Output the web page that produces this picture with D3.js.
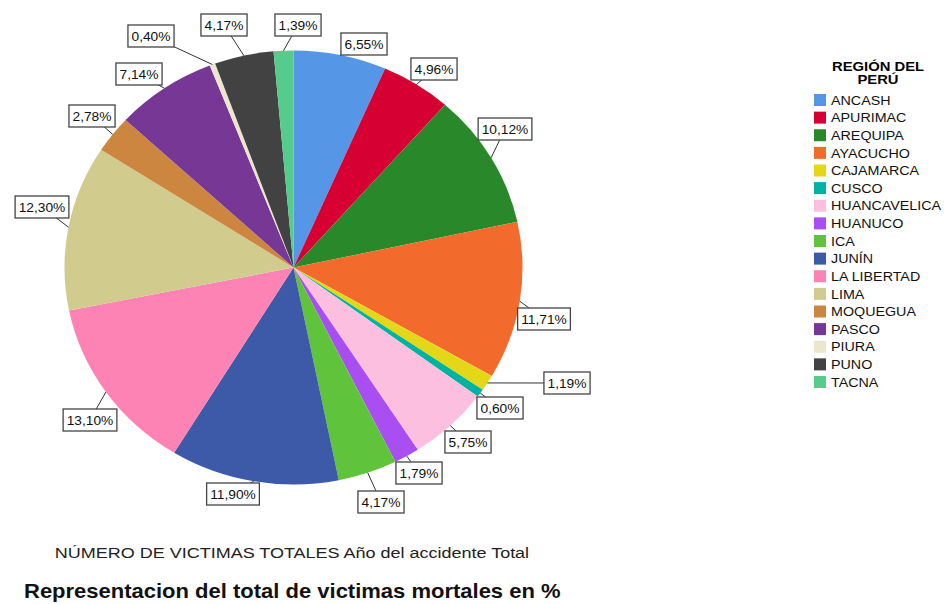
<!DOCTYPE html>
<html>
<head>
<meta charset="utf-8">
<script src="https://cdn.jsdelivr.net/npm/d3@7"></script>
<style>
  body { margin: 0; background: #fff; }
  text { font-family: "Liberation Sans", Arial, sans-serif; }
</style>
</head>
<body>
<div id="chart"></div>
<script>
// data
var regions = ["ANCASH", "APURIMAC", "AREQUIPA", "AYACUCHO", "CAJAMARCA", "CUSCO", "HUANCAVELICA",
  "HUANUCO", "ICA", "JUNÍN", "LA LIBERTAD", "LIMA", "MOQUEGUA", "PASCO", "PIURA", "PUNO", "TACNA"];
var percents = [6.55, 4.96, 10.12, 11.71, 1.19, 0.60, 5.75, 1.79, 4.17, 11.90, 13.10, 12.30, 2.78, 7.14, 0.40, 4.17, 1.39];
var colors = ["#5596e6", "#d60032", "#298829", "#f26b2c", "#e3d718", "#00b3a0", "#fdbfe0",
  "#a94ef0", "#5fc43b", "#3d5aa8", "#fc83b4", "#d2cb8e", "#cc8640", "#773794", "#ece5d0", "#424242", "#56cc8c"];

// label box centres (layout only)
var labelPos = [[364, 44], [434, 69], [505, 129], [544, 319], [567, 383], [500, 408], [468, 442],
  [419, 473], [381, 502], [233, 494], [90, 420], [42, 207], [92, 116], [139, 74], [151, 36], [224, 25], [298, 25]];

var svgWidth = 952, svgHeight = 604;
var cx = 293.5, cy = 267.5, rx = 229, ry = 217;

var svg = d3.select("#chart").append("svg")
    .attr("width", svgWidth)
    .attr("height", svgHeight);

var info = regions.map(function(r, i) {
  return { region: r, value: percents[i], color: colors[i], pos: labelPos[i] };
});

var pie = d3.pie().sort(null).value(d => d.value);
var arcs = pie(info);

var arc = d3.arc().innerRadius(0).outerRadius(ry);

// the whole picture is a bit stretched sideways, so the pie is an ellipse
var pieGroup = svg.append("g")
    .attr("transform", `translate(${cx}, ${cy}) scale(${rx / ry}, 1)`);

pieGroup.selectAll("path")
    .data(arcs)
    .enter()
    .append("path")
    .attr("d", arc)
    .attr("fill", d => d.data.color);

var fmt = d3.format(".2f");

// leader lines from slice edge to label box
var labelGroup = svg.append("g");
labelGroup.selectAll("line")
    .data(arcs)
    .enter()
    .append("line")
    .attr("x1", d => cx + rx * Math.sin((d.startAngle + d.endAngle) / 2))
    .attr("y1", d => cy - ry * Math.cos((d.startAngle + d.endAngle) / 2))
    .attr("x2", d => d.data.pos[0])
    .attr("y2", d => d.data.pos[1])
    .attr("stroke", "#333")
    .attr("stroke-width", 1);

var lblScale = 1.06;
var labels = labelGroup.selectAll("g.lbl")
    .data(arcs)
    .enter()
    .append("g")
    .attr("class", "lbl")
    .attr("transform", d => `translate(${d.data.pos[0]}, ${d.data.pos[1]})`);

labels.append("text")
    .attr("text-anchor", "middle")
    .attr("dy", "0.36em")
    .attr("font-size", "13px")
    .attr("fill", "#111")
    .attr("transform", `scale(${lblScale}, 1)`)
    .text(d => fmt(d.data.value).replace(".", ",") + "%")
    .each(function() {
      var bb = this.getBBox();
      var w = bb.width * lblScale;
      d3.select(this.parentNode).insert("rect", "text")
        .attr("x", -w / 2 - 3.5)
        .attr("y", -11)
        .attr("width", w + 7)
        .attr("height", 22)
        .attr("fill", "#fff")
        .attr("stroke", "#444")
        .attr("stroke-width", 1.3);
    });

// legend
var legend = svg.append("g").attr("transform", "translate(814, 0)");
legend.append("text")
    .attr("transform", "translate(64, 71) scale(1.14, 1)")
    .attr("text-anchor", "middle")
    .attr("font-size", "13px").attr("font-weight", "bold")
    .text("REGIÓN DEL");
legend.append("text")
    .attr("transform", "translate(64, 84) scale(1.14, 1)")
    .attr("text-anchor", "middle")
    .attr("font-size", "13px").attr("font-weight", "bold")
    .text("PERÚ");

var legendY = d3.scalePoint().domain(regions).range([100, 382]);

var items = legend.selectAll("g.item")
    .data(info)
    .enter()
    .append("g")
    .attr("class", "item")
    .attr("transform", d => `translate(0, ${legendY(d.region)})`);

items.append("rect")
    .attr("x", 0).attr("y", -6)
    .attr("width", 12).attr("height", 12)
    .attr("fill", d => d.color);

items.append("text")
    .attr("transform", "translate(17, 0) scale(1.1, 1)")
    .attr("dy", "0.36em")
    .attr("font-size", "13px")
    .attr("fill", "#111")
    .text(d => d.region);

// captions
svg.append("text")
    .attr("transform", "translate(292, 558) scale(1.2, 1)")
    .attr("text-anchor", "middle")
    .attr("font-size", "15px")
    .attr("fill", "#222")
    .text("NÚMERO DE VICTIMAS TOTALES Año del accidente Total");

svg.append("text")
    .attr("transform", "translate(24, 598) scale(1.1, 1)")
    .attr("font-size", "20px").attr("font-weight", "bold")
    .attr("fill", "#111")
    .text("Representacion del total de victimas mortales en %");
</script>
</body>
</html>
